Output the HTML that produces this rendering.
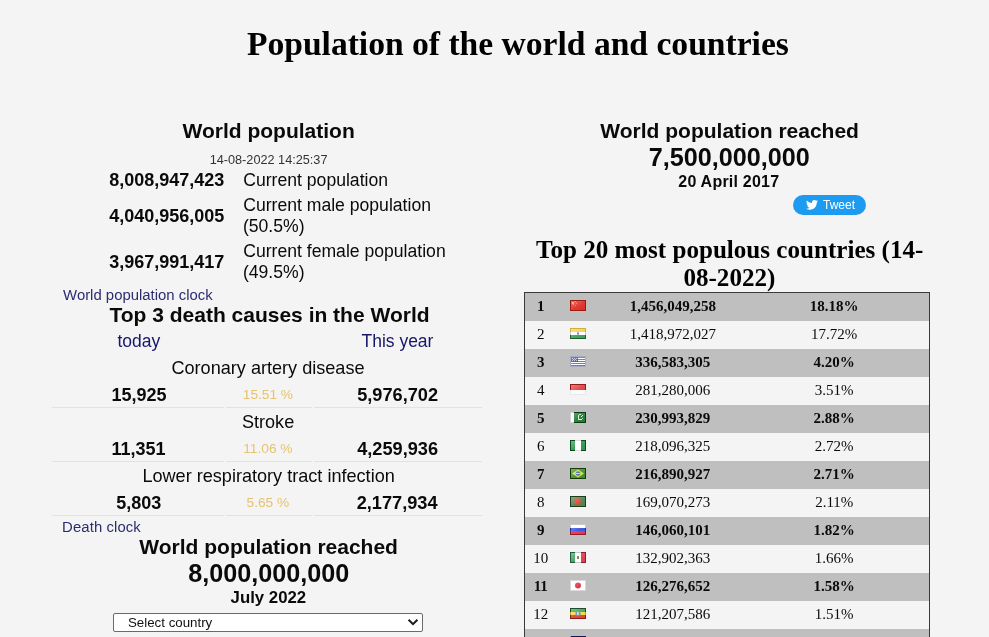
<!DOCTYPE html>
<html><head><meta charset="utf-8">
<title>Population of the world and countries</title>
<style>
html,body{margin:0;padding:0;}
body{background:#f4f4f4;width:989px;height:637px;overflow:hidden;position:relative;font-family:"Liberation Sans",Arial,sans-serif;color:#0a0a0a;}
.x{position:absolute;white-space:nowrap;margin:0;padding:0;}
.ln{position:absolute;height:1px;background:#e2e2e2;}
table.t{position:absolute;left:524px;top:292px;width:406px;border-collapse:collapse;font-family:"Liberation Serif","Times New Roman",serif;font-size:15px;border:1px solid #3a3a3a;color:#0a0a0a;}
table.t td{height:26px;padding:0 0 2px;text-align:center;line-height:26px;}
table.t tr.g{background:#bfbfbf;font-weight:bold;}
table.t svg{display:block;margin:0 auto;position:relative;top:-1px;}
</style></head><body>
<div id="h1" class="x" style="left:246.91px;top:28.90px;font:bold 33.6px/30px 'Liberation Serif','Times New Roman',serif;letter-spacing:0.000px;color:#000">Population of the world and countries</div>
<div id="wp" class="x" style="left:182.54px;top:115.90px;font:bold 21px/30px 'Liberation Sans',Arial,sans-serif;letter-spacing:0.000px;color:#0a0a0a">World population</div>
<div id="date" class="x" style="left:209.67px;top:145.20px;font:normal 12.7px/30px 'Liberation Sans',Arial,sans-serif;letter-spacing:0.000px;color:#333">14-08-2022 14:25:37</div>
<div id="n1" class="x" style="left:109.20px;top:164.80px;font:bold 18px/30px 'Liberation Sans',Arial,sans-serif;letter-spacing:0.000px;color:#0a0a0a">8,008,947,423</div>
<div id="t1" class="x" style="left:243.27px;top:164.80px;font:normal 17.6px/30px 'Liberation Sans',Arial,sans-serif;letter-spacing:0.000px;color:#0a0a0a">Current population</div>
<div id="n2" class="x" style="left:109.20px;top:200.80px;font:bold 18px/30px 'Liberation Sans',Arial,sans-serif;letter-spacing:0.000px;color:#0a0a0a">4,040,956,005</div>
<div id="t2a" class="x" style="left:243.20px;top:190.20px;font:normal 17.6px/30px 'Liberation Sans',Arial,sans-serif;letter-spacing:0.000px;color:#0a0a0a">Current male population</div>
<div id="t2b" class="x" style="left:242.93px;top:211.20px;font:normal 17.6px/30px 'Liberation Sans',Arial,sans-serif;letter-spacing:0.000px;color:#0a0a0a">(50.5%)</div>
<div id="n3" class="x" style="left:109.20px;top:246.80px;font:bold 18px/30px 'Liberation Sans',Arial,sans-serif;letter-spacing:0.000px;color:#0a0a0a">3,967,991,417</div>
<div id="t3a" class="x" style="left:243.22px;top:236.20px;font:normal 17.6px/30px 'Liberation Sans',Arial,sans-serif;letter-spacing:0.000px;color:#0a0a0a">Current female population</div>
<div id="t3b" class="x" style="left:242.93px;top:257.20px;font:normal 17.6px/30px 'Liberation Sans',Arial,sans-serif;letter-spacing:0.000px;color:#0a0a0a">(49.5%)</div>
<div id="l1" class="x" style="left:63.10px;top:279.60px;font:normal 14.9px/30px 'Liberation Sans',Arial,sans-serif;letter-spacing:0.000px;color:#2c2c72">World population clock</div>
<div id="h3" class="x" style="left:109.46px;top:299.90px;font:bold 21px/30px 'Liberation Sans',Arial,sans-serif;letter-spacing:0.000px;color:#0a0a0a">Top 3 death causes in the World</div>
<div id="today" class="x" style="left:117.47px;top:325.80px;font:normal 17.5px/30px 'Liberation Sans',Arial,sans-serif;letter-spacing:0.000px;color:#16166a">today</div>
<div id="year" class="x" style="left:361.48px;top:325.80px;font:normal 17.5px/30px 'Liberation Sans',Arial,sans-serif;letter-spacing:0.000px;color:#16166a">This year</div>
<div id="c1" class="x" style="left:171.44px;top:352.50px;font:normal 18.1px/30px 'Liberation Sans',Arial,sans-serif;letter-spacing:0.000px;color:#0a0a0a">Coronary artery disease</div>
<div id="a1" class="x" style="left:111.48px;top:379.50px;font:bold 18px/30px 'Liberation Sans',Arial,sans-serif;letter-spacing:0.000px;color:#0a0a0a">15,925</div>
<div id="p1" class="x" style="left:242.77px;top:380.10px;font:normal 13.7px/30px 'Liberation Sans',Arial,sans-serif;letter-spacing:0.000px;color:#e6c36e">15.51 %</div>
<div id="b1" class="x" style="left:357.15px;top:379.50px;font:bold 18.2px/30px 'Liberation Sans',Arial,sans-serif;letter-spacing:0.000px;color:#0a0a0a">5,976,702</div>
<div id="c2" class="x" style="left:241.93px;top:406.50px;font:normal 18.1px/30px 'Liberation Sans',Arial,sans-serif;letter-spacing:0.000px;color:#0a0a0a">Stroke</div>
<div id="a2" class="x" style="left:111.57px;top:433.50px;font:bold 18px/30px 'Liberation Sans',Arial,sans-serif;letter-spacing:0.000px;color:#0a0a0a">11,351</div>
<div id="p2" class="x" style="left:243.28px;top:434.10px;font:normal 13.7px/30px 'Liberation Sans',Arial,sans-serif;letter-spacing:0.000px;color:#e6c36e">11.06 %</div>
<div id="b2" class="x" style="left:357.15px;top:433.50px;font:bold 18.2px/30px 'Liberation Sans',Arial,sans-serif;letter-spacing:0.000px;color:#0a0a0a">4,259,936</div>
<div id="c3" class="x" style="left:142.38px;top:460.50px;font:normal 18.1px/30px 'Liberation Sans',Arial,sans-serif;letter-spacing:0.000px;color:#0a0a0a">Lower respiratory tract infection</div>
<div id="a3" class="x" style="left:116.33px;top:487.50px;font:bold 18px/30px 'Liberation Sans',Arial,sans-serif;letter-spacing:0.000px;color:#0a0a0a">5,803</div>
<div id="p3" class="x" style="left:246.58px;top:488.10px;font:normal 13.7px/30px 'Liberation Sans',Arial,sans-serif;letter-spacing:0.000px;color:#e6c36e">5.65 %</div>
<div id="b3" class="x" style="left:356.65px;top:487.50px;font:bold 18.2px/30px 'Liberation Sans',Arial,sans-serif;letter-spacing:0.000px;color:#0a0a0a">2,177,934</div>
<div id="l2" class="x" style="left:62.10px;top:512.20px;font:normal 14.9px/30px 'Liberation Sans',Arial,sans-serif;letter-spacing:0.085px;color:#2c2c72">Death clock</div>
<div id="wr1" class="x" style="left:139.30px;top:531.50px;font:bold 21px/30px 'Liberation Sans',Arial,sans-serif;letter-spacing:0.000px;color:#0a0a0a">World population reached</div>
<div id="big1" class="x" style="left:188.17px;top:557.70px;font:bold 25.2px/30px 'Liberation Sans',Arial,sans-serif;letter-spacing:0.000px;color:#0a0a0a">8,000,000,000</div>
<div id="jul" class="x" style="left:230.58px;top:582.50px;font:bold 16.8px/30px 'Liberation Sans',Arial,sans-serif;letter-spacing:0.000px;color:#0a0a0a">July 2022</div>
<div id="wr2" class="x" style="left:600.30px;top:115.50px;font:bold 21px/30px 'Liberation Sans',Arial,sans-serif;letter-spacing:0.000px;color:#0a0a0a">World population reached</div>
<div id="big2" class="x" style="left:648.77px;top:142.20px;font:bold 25.2px/30px 'Liberation Sans',Arial,sans-serif;letter-spacing:0.000px;color:#0a0a0a">7,500,000,000</div>
<div id="apr" class="x" style="left:678.30px;top:166.70px;font:bold 16px/30px 'Liberation Sans',Arial,sans-serif;letter-spacing:0.223px;color:#0a0a0a">20 April 2017</div>
<div id="h2a" class="x" style="left:536.03px;top:235.10px;font:bold 25.1px/30px 'Liberation Serif','Times New Roman',serif;letter-spacing:0.000px;color:#000">Top 20 most populous countries (14-</div>
<div id="h2b" class="x" style="left:683.43px;top:263.30px;font:bold 25.1px/30px 'Liberation Serif','Times New Roman',serif;letter-spacing:0.000px;color:#000">08-2022)</div>
<div class="ln" style="left:52px;top:407px;width:172px"></div><div class="ln" style="left:226px;top:407px;width:86px"></div><div class="ln" style="left:314px;top:407px;width:168px"></div>
<div class="ln" style="left:52px;top:461px;width:172px"></div><div class="ln" style="left:226px;top:461px;width:86px"></div><div class="ln" style="left:314px;top:461px;width:168px"></div>
<div class="ln" style="left:52px;top:515px;width:172px"></div><div class="ln" style="left:226px;top:515px;width:86px"></div><div class="ln" style="left:314px;top:515px;width:168px"></div>

<div class="x" style="left:113px;top:613px;width:308px;height:17px;border:1px solid #6a6a6a;border-radius:2px;background:#fff;"></div>
<div class="x" style="left:128px;top:613px;font:normal 13.3px/20px 'Liberation Sans',Arial,sans-serif;color:#111;">Select country</div>
<svg class="x" style="left:407px;top:618px" width="12" height="9" viewBox="0 0 12 9"><path d="M1.6 1.8 L6 6.2 L10.4 1.8" fill="none" stroke="#1a1a1a" stroke-width="2"/></svg>

<div class="x" style="left:793px;top:195px;width:73px;height:20px;border-radius:10px;background:#1d9bf0;"></div>
<svg class="x" style="left:806px;top:200px" width="12" height="10" viewBox="0 0 24 20"><path fill="#fff" d="M24 2.400c-.900.400-1.800.700-2.800.800 1-.600 1.800-1.600 2.200-2.700-1 .600-2 1-3.100 1.200C19.400.700 18.100 0 16.600 0c-2.700 0-4.900 2.200-4.900 4.900 0 .400 0 .800.100 1.100C7.700 5.800 4.100 3.900 1.700.900 1.200 1.600 1 2.500 1 3.400c0 1.700.900 3.200 2.200 4.100-.800 0-1.600-.200-2.200-.600v.100c0 2.400 1.700 4.400 3.900 4.800-.400.100-.800.200-1.300.200-.300 0-.600 0-.900-.100.600 2 2.400 3.400 4.600 3.400-1.700 1.300-3.800 2.100-6.100 2.100-.400 0-.800 0-1.200-.100 2.200 1.400 4.800 2.200 7.500 2.200 9.100 0 14-7.500 14-14v-.600c1-.700 1.800-1.600 2.500-2.500z"/></svg>
<div class="x" style="left:823px;top:195px;font:normal 12px/20px 'Liberation Sans',Arial,sans-serif;color:#fff;">Tweet</div>
<svg width="0" height="0" style="position:absolute"><defs><linearGradient id="gl" x1="0" y1="0" x2="1" y2="1"><stop offset="0" stop-color="#fff" stop-opacity=".34"/><stop offset=".55" stop-color="#fff" stop-opacity=".08"/><stop offset="1" stop-color="#fff" stop-opacity="0"/></linearGradient></defs></svg><table class="t"><colgroup><col style="width:32px"><col style="width:42px"><col style="width:148px"><col style="width:174px"><col style="width:8px"></colgroup>
<tr class="g"><td>1</td><td><svg width="16" height="11" viewBox="0 0 16 11" shape-rendering="crispEdges"><rect x="0" y="0" width="16" height="11" fill="#9a1a12"/><rect x="1" y="1" width="14" height="9" fill="#de2a20"/><rect x="2" y="2" width="2" height="2" fill="#f2a052"/><rect x="5" y="1" width="1" height="1" fill="#ea8448"/><rect x="6" y="3" width="1" height="1" fill="#ea8448"/><rect x="5" y="5" width="1" height="1" fill="#e67040"/><rect x="3" y="4" width="1" height="1" fill="#ec8a4a"/><rect x="1" y="1" width="14" height="9" fill="url(#gl)"/></svg></td><td>1,456,049,258</td><td>18.18%</td><td></td></tr>
<tr><td>2</td><td><svg width="16" height="11" viewBox="0 0 16 11" shape-rendering="crispEdges"><rect x="0" y="0" width="16" height="4" fill="#d4ae34"/><rect x="0" y="4" width="16" height="3" fill="#c9c9c9"/><rect x="0" y="7" width="16" height="4" fill="#1e5e30"/><rect x="1" y="1" width="14" height="3" fill="#f3cf55"/><rect x="1" y="4" width="14" height="3" fill="#ffffff"/><rect x="1" y="7" width="14" height="3" fill="#3d9d5a"/><rect x="7" y="4" width="2" height="3" fill="#a5b2d8"/><rect x="7" y="5" width="2" height="1" fill="#6c7cba"/><rect x="1" y="1" width="14" height="9" fill="url(#gl)"/></svg></td><td>1,418,972,027</td><td>17.72%</td><td></td></tr>
<tr class="g"><td>3</td><td><svg width="16" height="11" viewBox="0 0 16 11" shape-rendering="crispEdges"><rect x="0" y="0" width="16" height="11" fill="#a9a9c4"/><rect x="1" y="1" width="14" height="9" fill="#ffffff"/><rect x="1" y="1" width="14" height="1" fill="#de4a4a"/><rect x="1" y="3" width="14" height="1" fill="#de4a4a"/><rect x="1" y="5" width="14" height="1" fill="#de4a4a"/><rect x="1" y="7" width="14" height="1" fill="#de4a4a"/><rect x="1" y="9" width="14" height="1" fill="#de4a4a"/><rect x="1" y="1" width="7" height="5" fill="#3b4a9b"/><rect x="2" y="2" width="1" height="1" fill="#b9c1e6"/><rect x="4" y="2" width="1" height="1" fill="#b9c1e6"/><rect x="6" y="2" width="1" height="1" fill="#b9c1e6"/><rect x="3" y="3" width="1" height="1" fill="#b9c1e6"/><rect x="5" y="3" width="1" height="1" fill="#b9c1e6"/><rect x="2" y="4" width="1" height="1" fill="#b9c1e6"/><rect x="4" y="4" width="1" height="1" fill="#b9c1e6"/><rect x="6" y="4" width="1" height="1" fill="#b9c1e6"/><rect x="1" y="1" width="14" height="9" fill="url(#gl)"/></svg></td><td>336,583,305</td><td>4.20%</td><td></td></tr>
<tr><td>4</td><td><svg width="16" height="11" viewBox="0 0 16 11" shape-rendering="crispEdges"><rect x="0" y="0" width="16" height="6" fill="#8e1c1c"/><rect x="0" y="6" width="16" height="5" fill="#e9e9e9"/><rect x="1" y="1" width="14" height="5" fill="#e23a3a"/><rect x="1" y="6" width="14" height="4" fill="#fbfbfb"/><rect x="1" y="1" width="14" height="9" fill="url(#gl)"/></svg></td><td>281,280,006</td><td>3.51%</td><td></td></tr>
<tr class="g"><td>5</td><td><svg width="16" height="11" viewBox="0 0 16 11" shape-rendering="crispEdges"><rect x="0" y="0" width="4" height="11" fill="#d2d2d2"/><rect x="4" y="0" width="12" height="11" fill="#0a3a14"/><rect x="1" y="1" width="3" height="9" fill="#ffffff"/><rect x="4" y="1" width="11" height="9" fill="#1f7a30"/><rect x="8" y="3" width="1" height="4" fill="#d9f0dc"/><rect x="9" y="2" width="2" height="1" fill="#c9e8cc"/><rect x="9" y="7" width="3" height="1" fill="#e6f6e8"/><rect x="8" y="6" width="1" height="2" fill="#c9e8cc"/><rect x="12" y="6" width="1" height="1" fill="#b0dcb6"/><rect x="11" y="4" width="1" height="1" fill="#ffffff"/><rect x="12" y="3" width="1" height="1" fill="#e0f4e2"/><rect x="1" y="1" width="14" height="9" fill="url(#gl)"/></svg></td><td>230,993,829</td><td>2.88%</td><td></td></tr>
<tr><td>6</td><td><svg width="16" height="11" viewBox="0 0 16 11" shape-rendering="crispEdges"><rect x="0" y="0" width="5" height="11" fill="#0a4a1e"/><rect x="5" y="0" width="6" height="11" fill="#dcdcdc"/><rect x="11" y="0" width="5" height="11" fill="#0a4a1e"/><rect x="1" y="1" width="4" height="9" fill="#2a9448"/><rect x="5" y="1" width="6" height="9" fill="#ffffff"/><rect x="11" y="1" width="4" height="9" fill="#2a9448"/><rect x="1" y="1" width="14" height="9" fill="url(#gl)"/></svg></td><td>218,096,325</td><td>2.72%</td><td></td></tr>
<tr class="g"><td>7</td><td><svg width="16" height="11" viewBox="0 0 16 11" shape-rendering="crispEdges"><rect x="0" y="0" width="16" height="11" fill="#143c08"/><rect x="1" y="1" width="14" height="9" fill="#3f8a26"/><polygon points="8,1.500 14,5.500 8,9.500 2,5.500" fill="#cfe04f" shape-rendering="auto"/><circle cx="8" cy="5.500" r="2.300" fill="#4a68a8" shape-rendering="auto"/><rect x="6" y="5" width="4" height="1" fill="#c6d2e6"/><rect x="1" y="1" width="14" height="9" fill="url(#gl)"/></svg></td><td>216,890,927</td><td>2.71%</td><td></td></tr>
<tr><td>8</td><td><svg width="16" height="11" viewBox="0 0 16 11" shape-rendering="crispEdges"><rect x="0" y="0" width="16" height="11" fill="#1c3c1c"/><rect x="1" y="1" width="14" height="9" fill="#4c7f4c"/><circle cx="7.500" cy="5.500" r="3.200" fill="#e5402f" shape-rendering="auto"/><rect x="1" y="1" width="14" height="9" fill="url(#gl)"/></svg></td><td>169,070,273</td><td>2.11%</td><td></td></tr>
<tr class="g"><td>9</td><td><svg width="16" height="11" viewBox="0 0 16 11" shape-rendering="crispEdges"><rect x="0" y="0" width="16" height="4" fill="#c9c9c9"/><rect x="0" y="4" width="16" height="3" fill="#1a2aa0"/><rect x="0" y="7" width="16" height="4" fill="#8e1c2c"/><rect x="1" y="1" width="14" height="3" fill="#ffffff"/><rect x="1" y="4" width="14" height="3" fill="#2f4fe0"/><rect x="1" y="7" width="14" height="3" fill="#e52f4a"/><rect x="1" y="1" width="14" height="9" fill="url(#gl)"/></svg></td><td>146,060,101</td><td>1.82%</td><td></td></tr>
<tr><td>10</td><td><svg width="16" height="11" viewBox="0 0 16 11" shape-rendering="crispEdges"><rect x="0" y="0" width="5" height="11" fill="#1d5d3d"/><rect x="5" y="0" width="6" height="11" fill="#c9c9c9"/><rect x="11" y="0" width="5" height="11" fill="#8e1c2c"/><rect x="1" y="1" width="4" height="9" fill="#3d9d5d"/><rect x="5" y="1" width="6" height="9" fill="#ffffff"/><rect x="11" y="1" width="4" height="9" fill="#dc3c4c"/><rect x="7" y="4" width="2" height="3" fill="#8a7a4a"/><rect x="7" y="5" width="2" height="1" fill="#5a7a3a"/><rect x="1" y="1" width="14" height="9" fill="url(#gl)"/></svg></td><td>132,902,363</td><td>1.66%</td><td></td></tr>
<tr class="g"><td>11</td><td><svg width="16" height="11" viewBox="0 0 16 11" shape-rendering="crispEdges"><rect x="0" y="0" width="16" height="11" fill="#d9d9d9"/><rect x="1" y="1" width="14" height="9" fill="#ffffff"/><circle cx="8" cy="5.500" r="3" fill="#dc3044" shape-rendering="auto"/><rect x="1" y="1" width="14" height="9" fill="url(#gl)"/></svg></td><td>126,276,652</td><td>1.58%</td><td></td></tr>
<tr><td>12</td><td><svg width="16" height="11" viewBox="0 0 16 11" shape-rendering="crispEdges"><rect x="0" y="0" width="16" height="4" fill="#1d4d2d"/><rect x="0" y="4" width="16" height="3" fill="#c0a020"/><rect x="0" y="7" width="16" height="4" fill="#8e1c1c"/><rect x="1" y="1" width="14" height="3" fill="#3d9d4d"/><rect x="1" y="4" width="14" height="3" fill="#f0dc40"/><rect x="1" y="7" width="14" height="3" fill="#dc4030"/><circle cx="8" cy="5.500" r="2.600" fill="#5c8cc4" shape-rendering="auto"/><rect x="7" y="4" width="2" height="3" fill="#c6d6b0"/><rect x="1" y="1" width="14" height="9" fill="url(#gl)"/></svg></td><td>121,207,586</td><td>1.51%</td><td></td></tr>
<tr class="g"><td>13</td><td><svg width="16" height="11" viewBox="0 0 16 11" shape-rendering="crispEdges"><rect x="0" y="0" width="16" height="6" fill="#14145c"/><rect x="0" y="6" width="16" height="5" fill="#8e1c1c"/><rect x="1" y="1" width="14" height="5" fill="#2c3cac"/><rect x="1" y="6" width="14" height="4" fill="#dc3030"/><polygon points="0,0 7,5.500 0,11" fill="#f4f4f4" shape-rendering="auto"/><rect x="1" y="1" width="14" height="9" fill="url(#gl)"/></svg></td><td>112,508,994</td><td>1.40%</td><td></td></tr>
</table>
</body></html>
